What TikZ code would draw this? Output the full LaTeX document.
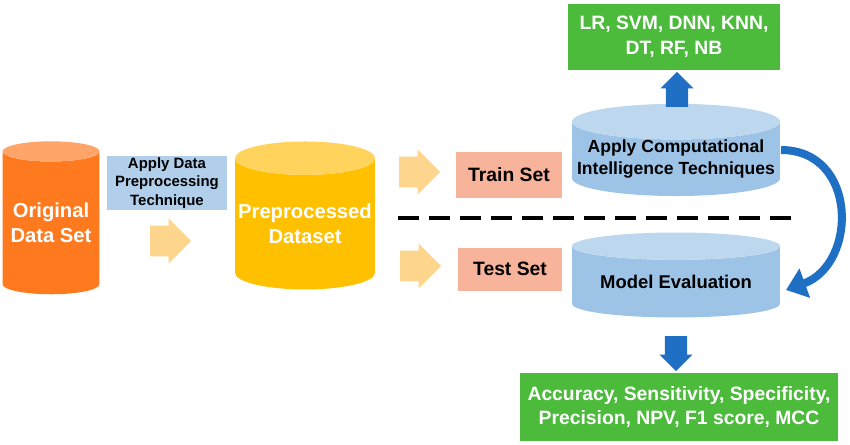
\documentclass[tikz,border=0pt]{standalone}
\usepackage{fontspec}
\setmainfont{Liberation Sans}
\usetikzlibrary{shapes.geometric,shapes.arrows,arrows.meta}
\definecolor{orangeA}{HTML}{FF7A1E}
\definecolor{orangeB}{HTML}{FFA569}
\definecolor{yellowA}{HTML}{FFC000}
\definecolor{yellowB}{HTML}{FFD35C}
\definecolor{blueA}{HTML}{9DC3E6}
\definecolor{blueB}{HTML}{BDD7EE}
\definecolor{salmon}{HTML}{F8B49A}
\definecolor{paleorange}{HTML}{FDD58C}
\definecolor{darkblue}{HTML}{1F6FC5}
\definecolor{leaf}{HTML}{4CBB3C}

\begin{document}
\begin{tikzpicture}[x=0.02cm,y=-0.02cm,font=\bfseries]
\tikzstyle{every node}=[font=\bfseries,align=center]
\tikzstyle{drum}=[cylinder,shape border rotate=90,draw=none,cylinder uses custom fill,inner sep=0pt]
\tikzstyle{box}=[rectangle,inner sep=0pt]
\tikzstyle{fat}=[single arrow,fill=paleorange,minimum height=0.82cm,minimum width=0.9cm,single arrow head extend=0.13cm,inner xsep=0pt,inner ysep=0.28cm]
\tikzstyle{blue arrow}=[single arrow,fill=darkblue,minimum height=0.7cm,minimum width=0.66cm,single arrow head extend=0.1cm,inner ysep=0pt,inner xsep=0.2cm]

	\useasboundingbox (0,0) rectangle (850,444);

	% data stores
	\node[drum,cylinder body fill=orangeA,cylinder end fill=orangeB,minimum width=1.94cm,minimum height=3.06cm,aspect=0.25,text=white,font=\bfseries\fontsize{11.5}{14}\selectfont] (orig) at (51,223) {Original\\Data Set};
	\node[drum,cylinder body fill=yellowA,cylinder end fill=yellowB,minimum width=2.8cm,minimum height=2.96cm,aspect=0.25,text=white,font=\bfseries\fontsize{11.5}{14}\selectfont] (prep) at (305,224) {Preprocessed\\Dataset};
	\node[drum,cylinder body fill=blueA,cylinder end fill=blueB,minimum width=4.16cm,minimum height=1.64cm,aspect=0.18,font=\bfseries\fontsize{10}{12.5}\selectfont] (cit) at (676,159) {Apply Computational\\Intelligence Techniques};
	\node[drum,cylinder body fill=blueA,cylinder end fill=blueB,minimum width=4.16cm,minimum height=1.7cm,aspect=0.18,font=\bfseries\fontsize{10.5}{12.5}\selectfont] (eval) at (676,282) {\raisebox{-0.2cm}{Model Evaluation}};

	% boxes
	\node[box,fill=blueA!80,minimum width=2.4cm,minimum height=1.08cm,font=\bfseries\fontsize{8.5}{10.5}\selectfont] (apply) at (167,183) {Apply Data\\Preprocessing\\Technique};
	\node[box,fill=salmon,minimum width=2.12cm,minimum height=0.92cm,font=\bfseries\fontsize{11}{13}\selectfont] (train) at (509,175) {Train Set};
	\node[box,fill=salmon,minimum width=2.1cm,minimum height=0.86cm,font=\bfseries\fontsize{11}{13}\selectfont] (test) at (510,269) {Test Set};
	\node[box,fill=leaf,text=white,minimum width=4.24cm,minimum height=1.34cm,font=\bfseries\fontsize{11}{14}\selectfont] (algos) at (674,37) {LR, SVM, DNN, KNN,\\DT, RF, NB};
	\node[box,fill=leaf,text=white,minimum width=6.36cm,minimum height=1.36cm,font=\bfseries\fontsize{11}{14}\selectfont] (metrics) at (679,407) {Accuracy, Sensitivity, Specificity,\\Precision, NPV, F1 score, MCC};

	% block arrows
	\node[fat] (f1) at (163,241) {};
	\node[fat] (f2) at (412,172) {};
	\node[fat] (f3) at (413,266) {};
	\node[blue arrow,shape border rotate=90] (up) at (677,95) {};
	\node[blue arrow,shape border rotate=270] (down) at (676,348) {};

	\draw[line width=2pt,dashed,dash pattern=on 0.42cm off 0.2cm] (398,218) -- (793,218);

	\coordinate (turnA) at (781,150);
	\coordinate (turnB) at (786,290);
	\draw[darkblue,line width=0.16cm,-{Triangle[length=0.4cm,width=0.6cm]}] (turnA) to[out=0,in=20,looseness=1.4] (turnB);
\end{tikzpicture}
\end{document}
